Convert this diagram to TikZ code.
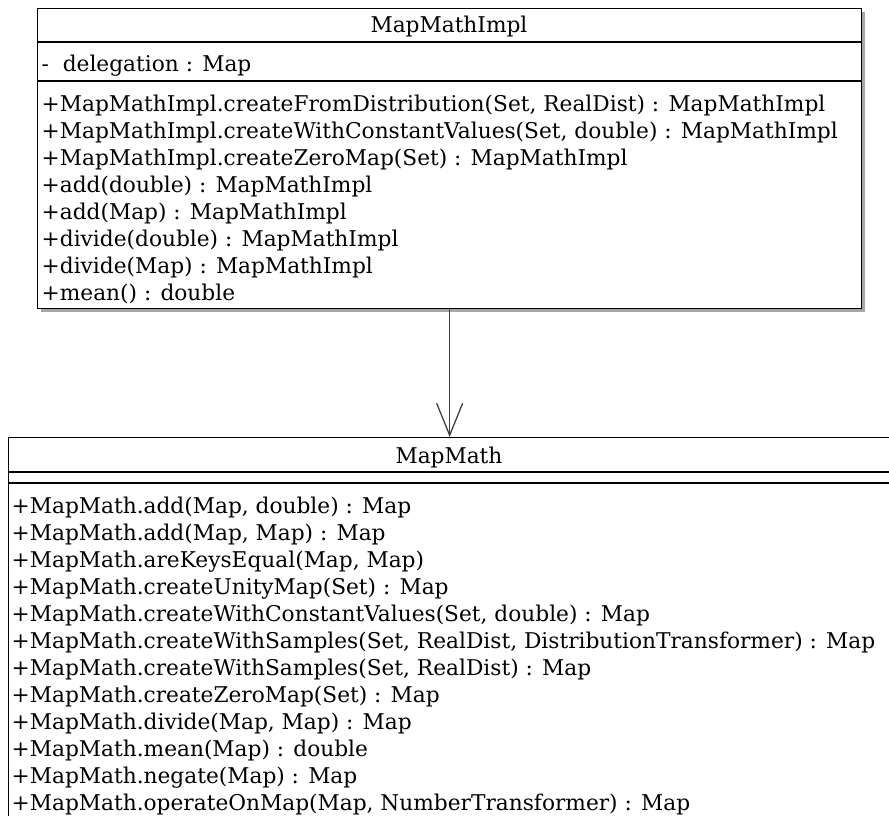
\documentclass[tikz,border=0pt]{standalone}
\usepackage{fontspec}
\setmainfont{DejaVu Serif}
\usetikzlibrary{arrows.meta,positioning,shadows}
\definecolor{shadowgrey}{gray}{0.65}
\definecolor{linegrey}{gray}{0.25}

\begin{document}
\begin{tikzpicture}[x=1pt,y=-1pt]
\tikzstyle{classbox}=[draw=black,line width=1.3pt,fill=white,anchor=north west,inner sep=0pt,drop shadow={shadow xshift=3pt,shadow yshift=-3pt,fill=shadowgrey,opacity=1}]
\tikzstyle{member}=[anchor=base west,inner sep=0pt,font=\fontsize{21.7}{27}\selectfont]
\tikzstyle{classname}=[member,anchor=base]
\tikzstyle{divider}=[line width=1.3pt]
\tikzstyle{arrow}=[draw=linegrey,line width=1.3pt,-{Straight Barb[length=32pt,width=26pt]}]
\clip (0,0) rectangle (889,816);
% MapMathImpl
\node [classbox,minimum width=824pt,minimum height=300pt] at (37,8) (impl) {};
\draw [divider] (impl.west |- 0,42) -- (impl.east |- 0,42);
\draw [divider] (impl.west |- 0,81) -- (impl.east |- 0,81);
\node [classname] at (449,33) (impltitle) {MapMathImpl};
\node [member] at (41.5,71) (implattr) {-~ delegation : Map};
\foreach \txt [count=\i] in {
  {+MapMathImpl.createFromDistribution(Set, RealDist) : MapMathImpl},
  {+MapMathImpl.createWithConstantValues(Set, double) : MapMathImpl},
  {+MapMathImpl.createZeroMap(Set) : MapMathImpl},
  {+add(double) : MapMathImpl},
  {+add(Map) : MapMathImpl},
  {+divide(double) : MapMathImpl},
  {+divide(Map) : MapMathImpl},
  {+mean() : double}}
  \node [member] at (41.5,84+27*\i) (implop\i) {\txt};
% MapMath
\node [classbox,minimum width=882pt,minimum height=420pt] at (8,437) (math) {};
\draw [divider] (math.west |- 0,472) -- (math.east |- 0,472);
\draw [divider] (math.west |- 0,483) -- (math.east |- 0,483);
\node [classname] at (449,463) (mathtitle) {MapMath};
\foreach \txt [count=\i] in {
  {+MapMath.add(Map, double) : Map},
  {+MapMath.add(Map, Map) : Map},
  {+MapMath.areKeysEqual(Map, Map)},
  {+MapMath.createUnityMap(Set) : Map},
  {+MapMath.createWithConstantValues(Set, double) : Map},
  {+MapMath.createWithSamples(Set, RealDist, DistributionTransformer) : Map},
  {+MapMath.createWithSamples(Set, RealDist) : Map},
  {+MapMath.createZeroMap(Set) : Map},
  {+MapMath.divide(Map, Map) : Map},
  {+MapMath.mean(Map) : double},
  {+MapMath.negate(Map) : Map},
  {+MapMath.operateOnMap(Map, NumberTransformer) : Map}}
  \node [member] at (11.5,486+27*\i) (mathop\i) {\txt};
% realisation
\draw [arrow] (impl.south) -- (math.north);
\end{tikzpicture}
\end{document}
